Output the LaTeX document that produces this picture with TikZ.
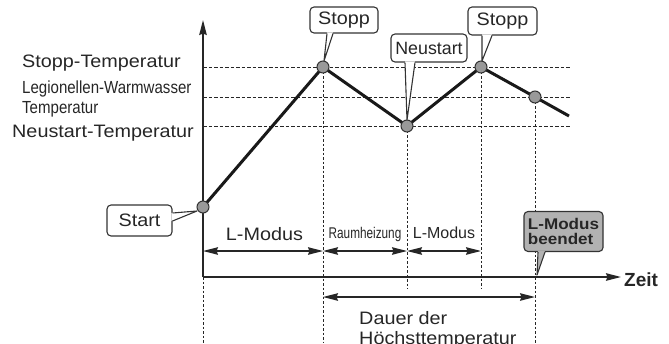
\documentclass[tikz,border=0pt]{standalone}
\usepackage{fontspec}
\setmainfont{Liberation Sans}
\newfontfamily\fmain[FakeStretch=1.1]{Liberation Sans}
\newfontfamily\fcond[FakeStretch=0.86]{Liberation Sans}
\newfontfamily\fcondb[FakeStretch=0.76]{Liberation Sans}
\usetikzlibrary{arrows.meta,calc}
\colorlet{ink}{black!85}
\begin{document}
\begin{tikzpicture}[x=1pt,y=-1pt,
  lbl/.style={inner sep=0pt, text=ink, font=\fmain\fontsize{18}{20}\selectfont},
  condlbl/.style={inner sep=0pt, text=ink, font=\fcond\fontsize{17.5}{20}\selectfont},
  smalllbl/.style={inner sep=0pt, text=ink, font=\fcondb\fontsize{15.5}{17}\selectfont},
  midlbl/.style={inner sep=0pt, text=ink, font=\fontsize{16}{18}\selectfont},
  callout/.style={draw=black!80, line width=1.1pt, rounded corners=4pt, fill=white,
    inner sep=0pt, text=ink, font=\fmain\fontsize{18}{20}\selectfont},
  cline/.style={draw=black!80, line width=1.1pt, line join=round},
  hdash/.style={black!85, line width=1pt, dash pattern=on 3.5pt off 2pt},
  vdash/.style={black!85, line width=1pt, dash pattern=on 2.5pt off 2pt},
  axis/.style={black!85, line width=1.5pt},
  curve/.style={black!90, line width=3pt, line join=round},
  dot/.style={circle, draw=black!80, fill=black!40, line width=1pt, minimum size=12pt, inner sep=0pt},
  dim/.style={black!85, line width=1.3pt, {Stealth[length=15pt,width=7.5pt,inset=1.5pt]}-{Stealth[length=15pt,width=7.5pt,inset=1.5pt]}},
  axarrow/.style={-{Stealth[length=15pt,width=7.5pt,inset=1.5pt]}}
]
\useasboundingbox (0,0) rectangle (669,343);

% key coordinates
\coordinate (o) at (203,277);
\coordinate (ytop) at (203,20);
\coordinate (xend) at (621,277);
\coordinate (ybot) at (203,343);
\coordinate (c0) at (203,207);
\coordinate (c1) at (323,67);
\coordinate (c2) at (407,126);
\coordinate (c3) at (481,67);
\coordinate (c4) at (535,97);
\coordinate (c5) at (569,116);

% horizontal dashed levels
\coordinate (hs0) at (203,67);  \coordinate (hs1) at (570,67);
\coordinate (hl0) at (203,97);  \coordinate (hl1) at (570,97);
\coordinate (hn0) at (203,126); \coordinate (hn1) at (570,126);
\draw[hdash] (hs0) -- (hs1);
\draw[hdash] (hl0) -- (hl1);
\draw[hdash] (hn0) -- (hn1);

% vertical dotted lines
\coordinate (v1b) at (323,343);
\coordinate (v2b) at (407,289);
\coordinate (v3b) at (481,289);
\coordinate (v4b) at (535,343);
\draw[vdash] (c1) -- (v1b);
\draw[vdash] (c2) -- (v2b);
\draw[vdash] (c3) -- (v3b);
\draw[vdash] (c4) -- (v4b);
\draw[vdash] (o) -- (ybot);

% axes
\draw[axis, axarrow] (o) -- (ytop);
\draw[axis, axarrow] (o) -- (xend);
\node[inner sep=0pt, anchor=base west, text=ink, font=\bfseries\fontsize{19}{20}\selectfont] (zeit) at (624,286) {Zeit};

% y labels
\node[lbl, anchor=base west] (tstop) at (22,67) {Stopp-Temperatur};
\node[condlbl, anchor=base west] (tleg1) at (22,93) {Legionellen-Warmwasser};
\node[condlbl, anchor=base west] (tleg2) at (22,113) {Temperatur};
\node[lbl, anchor=base west] (tneu) at (12,137) {Neustart-Temperatur};

% temperature curve
\draw[curve] (c0) -- (c1) -- (c2) -- (c3) -- (c4) -- (c5);
\node[dot] (p0) at (c0) {};
\node[dot] (p1) at (c1) {};
\node[dot] (p2) at (c2) {};
\node[dot] (p3) at (c3) {};
\node[dot] (p4) at (c4) {};

% interval arrows
\coordinate (a0) at (203,251);
\coordinate (a1) at (323,251);
\coordinate (a2) at (407,251);
\coordinate (a3) at (481,251);
\draw[dim] (a0) -- (a1);
\draw[dim] (a1) -- (a2);
\draw[dim] (a2) -- (a3);
\node[lbl, anchor=base] (lm1) at (264.5,240) {L-Modus};
\node[smalllbl, anchor=base] (rh) at (365,238) {Raumheizung};
\node[midlbl, anchor=base] (lm2) at (444,238) {L-Modus};

\coordinate (d0) at (323,297);
\coordinate (d1) at (535,297);
\draw[dim] (d0) -- (d1);
\node[lbl, anchor=base west] (dauer1) at (359,324) {Dauer der};
\node[lbl, anchor=base west] (dauer2) at (359,344) {H\"ochsttemperatur};

% callouts
\node[callout, minimum width=68pt, minimum height=26pt] (s1) at (344,20) {Stopp};
\coordinate (t1) at (324,61);
\fill[white] ($(s1.south)+(-17,-1.3)$) -- (t1) -- ($(s1.south)+(-11,-1.3)$) -- cycle;
\draw[cline] ($(s1.south)+(-17,0)$) -- (t1) -- ($(s1.south)+(-11,0)$);

\node[callout, minimum width=76pt, minimum height=28pt, font=\fontsize{17.8}{20}\selectfont] (ns) at (429,48) {Neustart};
\coordinate (t2) at (407,120);
\fill[white] ($(ns.south)+(-24,-1.3)$) -- (t2) -- ($(ns.south)+(-14,-1.3)$) -- cycle;
\draw[cline] ($(ns.south)+(-24,0)$) -- (t2) -- ($(ns.south)+(-14,0)$);

\node[callout, minimum width=69pt, minimum height=28pt] (s2) at (502.5,21) {Stopp};
\coordinate (t3) at (482,61);
\fill[white] ($(s2.south)+(-20.5,-1.3)$) -- (t3) -- ($(s2.south)+(-10.5,-1.3)$) -- cycle;
\draw[cline] ($(s2.south)+(-20.5,0)$) -- (t3) -- ($(s2.south)+(-10.5,0)$);

\node[callout, minimum width=65pt, minimum height=31pt] (st) at (139.5,220.5) {Start};
\coordinate (t4) at (197,211);
\fill[white] ($(st.east)+(-1.3,-7.5)$) -- (t4) -- ($(st.east)+(-1.3,0.5)$) -- cycle;
\draw[cline] ($(st.east)+(0,-7.5)$) -- (t4) -- ($(st.east)+(0,0.5)$);

\node[callout, fill=black!30, minimum width=79pt, minimum height=40pt, align=left,
  font=\fmain\bfseries\fontsize{15.5}{15}\selectfont] (lb) at (563.5,231.5) {L-Modus\\beendet};
\coordinate (t5) at (537,275);
\fill[black!30] ($(lb.south)+(-25.5,-1.3)$) -- (t5) -- ($(lb.south)+(-18.5,-1.3)$) -- cycle;
\draw[cline] ($(lb.south)+(-25.5,0)$) -- (t5) -- ($(lb.south)+(-18.5,0)$);
\end{tikzpicture}
\end{document}
